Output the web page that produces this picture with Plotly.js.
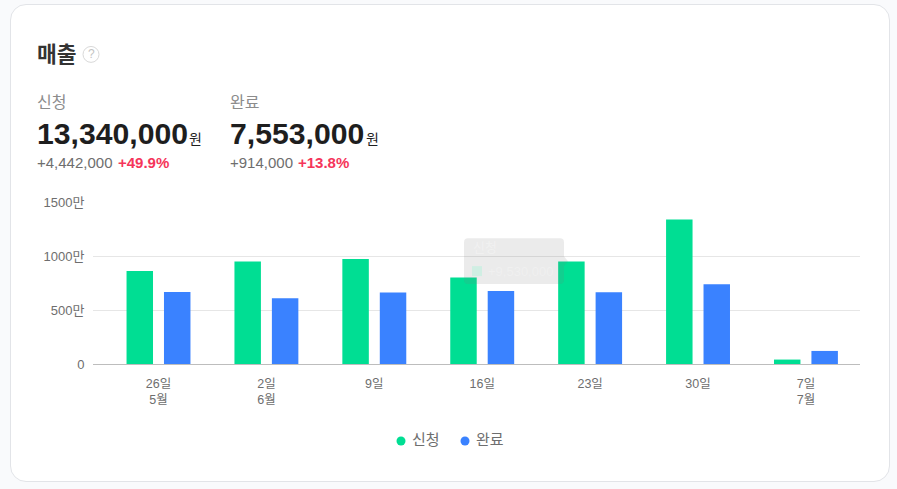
<!DOCTYPE html>
<html lang="ko">
<head>
<meta charset="utf-8">
<script src="https://cdn.plot.ly/plotly-3.0.1.min.js"></script>
<style>
html, body { margin: 0; padding: 0; background: #f9fafc; }
body { width: 897px; height: 489px; overflow: hidden; position: relative; font-family: "Liberation Sans", "Noto Sans CJK KR", sans-serif; }
#card { position: absolute; left: 10px; top: 4px; width: 878px; height: 476px; background: #fff; border: 1px solid #e2e4e8; border-radius: 16px; }
#chart { position: absolute; left: 0; top: 0; width: 897px; height: 489px; }
</style>
</head>
<body>
<div id="card"></div>
<div id="chart"></div>
<script>
var categories = ['26일<br>5월', '2일<br>6월', '9일', '16일', '23일', '30일', '7일<br>7월'];
var applied_values = [860, 950, 973, 802, 950, 1339, 41];
var completed_values = [667, 609, 661, 676, 664, 738, 121];
var y_ticks = [0, 500, 1000, 1500];
var y_tick_labels = ['0', '500만', '1000만', '1500만'];
var series_names = ['신청', '완료'];
var series_colors = ['#00de93', '#3a82ff'];

var W = 897, H = 489;
var plot_left = 93, plot_right = 860, plot_top = 201.5, plot_bottom = 364.5;

// paper coordinates are relative to the plot area, not the page
function px(x) { return (x - plot_left) / (plot_right - plot_left); }
function py(y) { return (plot_bottom - y) / (plot_bottom - plot_top); }

function label(x, y, text, size, color, weight) {
	return {
		xref: 'paper', yref: 'paper', x: px(x), y: py(y), text: weight ? '<b>' + text + '</b>' : text,
		showarrow: false, xanchor: 'left', yanchor: 'middle', xshift: -2,
		font: { size: size, color: color }
	};
}

var annotations = [
	label(37, 54, '매출', 21.5, '#333333', true),
	label(88, 53, '?', 12, '#c4c4c4', false),
	label(37, 101, series_names[0], 16, '#8c8c8c', false),
	label(37, 132.5, '13,340,000', 30.2, '#1e1e1e', true),
	label(189, 138, '원', 14, '#1e1e1e', false),
	label(37, 161.5, '+4,442,000', 15, '#6e6e6e', false),
	label(118, 161.5, '+49.9%', 15, '#f5355a', true),
	label(230, 101, series_names[1], 16, '#8c8c8c', false),
	label(230, 132.5, '7,553,000', 30.2, '#1e1e1e', true),
	label(366, 138, '원', 14, '#1e1e1e', false),
	label(230, 161.5, '+914,000', 15, '#6e6e6e', false),
	label(298, 161.5, '+13.8%', 15, '#f5355a', true),
	// legend, drawn by hand since plotly keeps a wide gap after the symbol
	label(412, 440, series_names[0], 15, '#6e6e6e', false),
	label(476, 440, series_names[1], 15, '#6e6e6e', false),
	// tooltip caught fading out in the reference
	label(473, 247, series_names[0], 13, 'rgba(255,255,255,0.3)', false),
	label(488, 271, '+9,530,000', 13, 'rgba(255,255,255,0.25)', false)
];

function tooltip_path() {
	var pts = [
		['M', 468, 238], ['L', 560, 238], ['Q', 564, 238, 564, 242], ['L', 564, 256], ['L', 568, 261], ['L', 564, 266],
		['L', 564, 280], ['Q', 564, 284, 560, 284], ['L', 468, 284], ['Q', 464, 284, 464, 280],
		['L', 464, 242], ['Q', 464, 238, 468, 238]
	];
	var path = '';
	pts.forEach(function (p) {
		path += p[0] + ' ' + px(p[1]) + ' ' + py(p[2]);
		if (p.length > 3) {
			path += ' ' + px(p[3]) + ' ' + py(p[4]);
		}
		path += ' ';
	});
	return path + 'Z';
}

function legend_dot(x, color) {
	return { type: 'circle', xref: 'paper', yref: 'paper', x0: px(x - 4.5), x1: px(x + 4.5), y0: py(442 + 4.5), y1: py(442 - 4.5), fillcolor: color, line: { width: 0 } };
}

var shapes = [
	{ type: 'circle', xref: 'paper', yref: 'paper', x0: px(83), x1: px(99), y0: py(61), y1: py(45), line: { color: '#d9d9d9', width: 1 } },
	legend_dot(401, series_colors[0]),
	legend_dot(465, series_colors[1]),
	{ type: 'path', xref: 'paper', yref: 'paper', layer: 'above', fillcolor: 'rgba(120,120,120,0.15)', line: { width: 0 }, path: tooltip_path() },
	{ type: 'rect', xref: 'paper', yref: 'paper', layer: 'above', x0: px(472), x1: px(482), y0: py(276), y1: py(266), fillcolor: 'rgba(190,240,222,0.6)', line: { width: 0 } }
];

var data = [
	{ type: 'bar', x: categories, y: applied_values, name: series_names[0], marker: { color: series_colors[0] }, hoverinfo: 'skip' },
	{ type: 'bar', x: categories, y: completed_values, name: series_names[1], marker: { color: series_colors[1] }, hoverinfo: 'skip' }
];

var layout = {
	width: W, height: H,
	paper_bgcolor: 'rgba(0,0,0,0)',
	plot_bgcolor: 'rgba(0,0,0,0)',
	font: { family: '"Liberation Sans", "Noto Sans CJK KR", sans-serif', size: 13, color: '#6e6e6e' },
	margin: { l: plot_left, r: W - plot_right, t: plot_top, b: H - plot_bottom, pad: 0 },
	barmode: 'group',
	bargap: 0.306,
	bargroupgap: 0.293,
	xaxis: {
		type: 'category', range: [-0.607, 6.501], fixedrange: true, automargin: false,
		showgrid: false, showline: true, linecolor: '#bdbdbd', linewidth: 1,
		ticks: 'outside', ticklen: 8, tickcolor: 'rgba(0,0,0,0)',
		tickfont: { size: 12.5, color: '#6e6e6e' }
	},
	yaxis: {
		range: [0, 1500], tickvals: y_ticks, ticktext: y_tick_labels, fixedrange: true, automargin: false,
		gridcolor: '#e6e6e6', gridwidth: 1, zeroline: false, ticks: 'outside', ticklen: 5, tickcolor: 'rgba(0,0,0,0)',
		tickfont: { size: 13, color: '#6e6e6e' }
	},
	showlegend: false,
	annotations: annotations,
	shapes: shapes
};

Plotly.newPlot('chart', data, layout, { displayModeBar: false, responsive: false });
</script>
</body>
</html>
